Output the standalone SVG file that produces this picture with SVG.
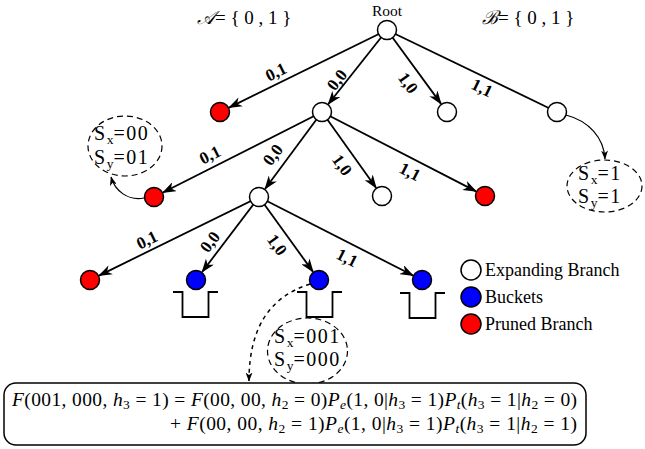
<svg xmlns="http://www.w3.org/2000/svg" width="645" height="449" viewBox="0 0 645 449">
<defs>
<marker id="ah" markerUnits="userSpaceOnUse" markerWidth="14" markerHeight="10" viewBox="0 0 14 10" refX="13" refY="5" orient="auto">
<path d="M0,0 L14,5 L0,10 L4,5 z" fill="#000"/>
</marker>
<marker id="ahs" markerUnits="userSpaceOnUse" markerWidth="9" markerHeight="7" viewBox="0 0 9 7" refX="8.5" refY="3.5" orient="auto">
<path d="M0,0 L9,3.5 L0,7 L2.5,3.5 z" fill="#000"/>
</marker>
</defs>
<style>
.e{stroke:#000;stroke-width:1.8;fill:none;marker-end:url(#ah)}
.el{stroke:#000;stroke-width:1.8;fill:none}
.c{stroke:#000;stroke-width:1.2;fill:none;marker-end:url(#ahs)}
.dc{stroke:#000;stroke-width:1.5;fill:none;stroke-dasharray:4,4;marker-end:url(#ahs)}
.lb{font-family:"Liberation Serif",serif;font-weight:bold;font-size:17px;text-anchor:middle;dominant-baseline:central}
.w{fill:#fff;stroke:#000;stroke-width:1.5}
.r{fill:#f00;stroke:#000;stroke-width:1.5}
.b{fill:#00f;stroke:#000;stroke-width:1.5}
.t{font-family:"Liberation Serif",serif;font-size:18px;fill:#000}
.st{font-family:"Liberation Serif",serif;font-size:20px;fill:#000;letter-spacing:1.5px}
.de{fill:none;stroke:#000;stroke-width:1.2;stroke-dasharray:6,4}
.bk{fill:none;stroke:#000;stroke-width:1.8}
.m{font-family:"Liberation Serif",serif;font-size:19.5px;fill:#000}
.i{font-style:italic}
.s{font-size:13.5px;letter-spacing:0}
</style>
<g id="connectors">
<line class="e" x1="387" y1="30" x2="229" y2="107.6"/>
<line class="e" x1="387" y1="30" x2="328.2" y2="104.2"/>
<line class="e" x1="387" y1="30" x2="441.1" y2="103.9"/>
<line class="el" x1="387" y1="30" x2="557" y2="112"/>
<line class="e" x1="322" y1="112" x2="162.9" y2="192.5"/>
<line class="e" x1="322" y1="112" x2="265" y2="189"/>
<line class="e" x1="322" y1="112" x2="376.2" y2="187.9"/>
<line class="e" x1="322" y1="112" x2="476.1" y2="191.4"/>
<line class="e" x1="259" y1="197" x2="99" y2="275.6"/>
<line class="e" x1="259" y1="197" x2="202.1" y2="272"/>
<line class="e" x1="259" y1="197" x2="313.1" y2="271.9"/>
<line class="e" x1="259" y1="197" x2="413.1" y2="275.5"/>
<path class="c" d="M144,198 C128,201 115,191 111,177"/>
<path class="c" d="M566,115 C589,121 604,138 605,159"/>
<path class="dc" d="M310,284 C272,296 249,325 249,381"/>
</g>
<g id="edge-labels">
<text class="lb" x="276" y="72" transform="rotate(-26.2 276 72)">0,1</text>
<text class="lb" x="337" y="80" transform="rotate(-51.6 337 80)">0,0</text>
<text class="lb" x="408" y="83" transform="rotate(53.8 408 83)">1,0</text>
<text class="lb" x="482" y="88" transform="rotate(25.8 482 88)">1,1</text>
<text class="lb" x="210" y="155" transform="rotate(-26.8 210 155)">0,1</text>
<text class="lb" x="273" y="155" transform="rotate(-53.5 273 155)">0,0</text>
<text class="lb" x="342" y="165" transform="rotate(54.5 342 165)">1,0</text>
<text class="lb" x="410" y="172" transform="rotate(27.3 410 172)">1,1</text>
<text class="lb" x="147" y="240" transform="rotate(-26.2 147 240)">0,1</text>
<text class="lb" x="210" y="242" transform="rotate(-52.8 210 242)">0,0</text>
<text class="lb" x="277" y="245" transform="rotate(54.1 277 245)">1,0</text>
<text class="lb" x="347" y="258" transform="rotate(27 347 258)">1,1</text>
</g>
<g id="root"><circle class="w" cx="387" cy="30" r="9.5"/><text class="t" x="387" y="16" text-anchor="middle" style="font-size:15.5px">Root</text></g>
<g id="n1a"><circle class="r" cx="220" cy="112" r="9.5"/></g>
<g id="n1b"><circle class="w" cx="322" cy="112" r="9.5"/></g>
<g id="n1c"><circle class="w" cx="447" cy="112" r="9.5"/></g>
<g id="n1d"><circle class="w" cx="557" cy="112" r="9.5"/></g>
<g id="n2e"><circle class="r" cx="154" cy="197" r="9.5"/></g>
<g id="n2f"><circle class="w" cx="259" cy="197" r="9.5"/></g>
<g id="n2g"><circle class="w" cx="382" cy="196" r="9.5"/></g>
<g id="n2h"><circle class="r" cx="485" cy="196" r="9.5"/></g>
<g id="n3i"><circle class="r" cx="90" cy="280" r="9.5"/></g>
<g id="n3j"><circle class="b" cx="196" cy="280" r="9.5"/><path class="bk" d="M173,292 H182.5 V317 H208.5 V292 H218"/></g>
<g id="n3k"><circle class="b" cx="319" cy="280" r="9.5"/><path class="bk" d="M297,292 H306.5 V317 H332.5 V292 H342"/></g>
<g id="n3l"><circle class="b" cx="422" cy="280" r="9.5"/><path class="bk" d="M400,293 H409.5 V318 H435.5 V293 H445"/></g>
<g id="setA"><text class="t" x="197" y="24" style="font-size:19px"><tspan class="i">𝒜</tspan>= { 0 , 1 }</text></g>
<g id="setB"><text class="t" x="482" y="24" style="font-size:19px"><tspan class="i">ℬ</tspan>= { 0 , 1 }</text></g>
<g id="state1">
<ellipse class="de" cx="125" cy="146" rx="37" ry="30"/>
<text class="st" x="94" y="140">S<tspan class="s" dy="4">x</tspan><tspan dy="-4">=00</tspan></text>
<text class="st" x="94" y="164">S<tspan class="s" dy="4">y</tspan><tspan dy="-4">=01</tspan></text>
</g>
<g id="state2">
<ellipse class="de" cx="604.5" cy="186" rx="37.5" ry="26"/>
<text class="st" x="578" y="180">S<tspan class="s" dy="4">x</tspan><tspan dy="-4">=1</tspan></text>
<text class="st" x="578" y="203">S<tspan class="s" dy="4">y</tspan><tspan dy="-4">=1</tspan></text>
</g>
<g id="state3">
<ellipse class="de" cx="307.5" cy="351" rx="40" ry="33"/>
<text class="st" x="274" y="343">S<tspan class="s" dy="4">x</tspan><tspan dy="-4">=001</tspan></text>
<text class="st" x="274" y="366">S<tspan class="s" dy="4">y</tspan><tspan dy="-4">=000</tspan></text>
</g>
<g id="legend">
<circle class="w" cx="471" cy="270" r="10"/><text class="t" x="485" y="276">Expanding Branch</text>
<circle class="b" cx="471" cy="297" r="10"/><text class="t" x="485" y="303">Buckets</text>
<circle class="r" cx="471" cy="324" r="10"/><text class="t" x="485" y="330">Pruned Branch</text>
</g>
<g id="formula">
<rect x="4" y="383" width="582" height="62" rx="12" ry="12" fill="#fff" stroke="#000" stroke-width="1.5"/>
<text class="m" x="12" y="406" textLength="565" lengthAdjust="spacing"><tspan class="i">F</tspan>(001, 000, <tspan class="i">h</tspan><tspan class="s" dy="3">3</tspan><tspan dy="-3"> = 1) = </tspan><tspan class="i">F</tspan>(00, 00, <tspan class="i">h</tspan><tspan class="s" dy="3">2</tspan><tspan dy="-3"> = 0)</tspan><tspan class="i">P</tspan><tspan class="s i" dy="3">e</tspan><tspan dy="-3">(1, 0|</tspan><tspan class="i">h</tspan><tspan class="s" dy="3">3</tspan><tspan dy="-3"> = 1)</tspan><tspan class="i">P</tspan><tspan class="s i" dy="3">t</tspan><tspan dy="-3">(</tspan><tspan class="i">h</tspan><tspan class="s" dy="3">3</tspan><tspan dy="-3"> = 1|</tspan><tspan class="i">h</tspan><tspan class="s" dy="3">2</tspan><tspan dy="-3"> = 0)</tspan></text>
<text class="m" x="170" y="430" textLength="407" lengthAdjust="spacing">+ <tspan class="i">F</tspan>(00, 00, <tspan class="i">h</tspan><tspan class="s" dy="3">2</tspan><tspan dy="-3"> = 1)</tspan><tspan class="i">P</tspan><tspan class="s i" dy="3">e</tspan><tspan dy="-3">(1, 0|</tspan><tspan class="i">h</tspan><tspan class="s" dy="3">3</tspan><tspan dy="-3"> = 1)</tspan><tspan class="i">P</tspan><tspan class="s i" dy="3">t</tspan><tspan dy="-3">(</tspan><tspan class="i">h</tspan><tspan class="s" dy="3">3</tspan><tspan dy="-3"> = 1|</tspan><tspan class="i">h</tspan><tspan class="s" dy="3">2</tspan><tspan dy="-3"> = 1)</tspan></text>
</g>
</svg>
